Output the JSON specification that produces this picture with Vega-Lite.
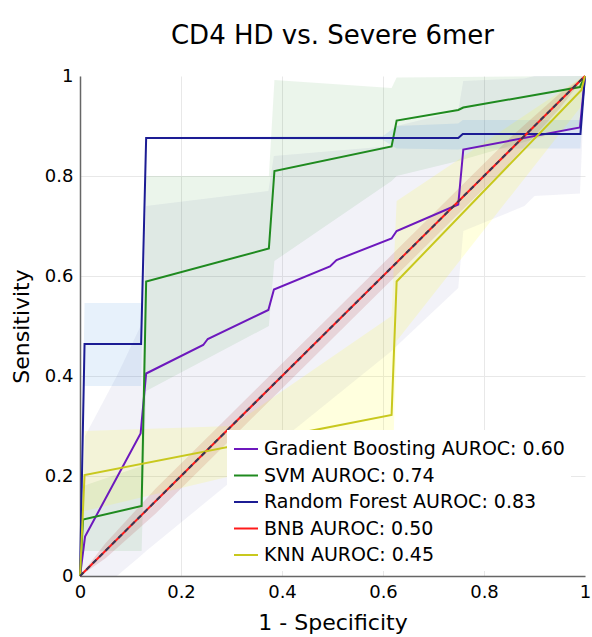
{
  "$schema": "https://vega.github.io/schema/vega-lite/v6.json",
  "width": 505,
  "height": 500,
  "autosize": {"type": "none"},
  "padding": {"left": 80, "top": 76, "right": 7, "bottom": 61},
  "title": {"text": "CD4 HD vs. Severe 6mer", "fontSize": 26, "fontWeight": "normal", "font": "DejaVu Sans", "offset": 18, "anchor": "middle", "color": "black"},
  "config": {
    "font": "DejaVu Sans",
    "view": {"stroke": null},
    "axis": {
      "ticks": false, "tickSize": 0, "labelFlush": false,
      "labelFontSize": 18, "labelColor": "black", "labelFont": "DejaVu Sans",
      "titleFontSize": 22, "titleFontWeight": "normal", "titleColor": "black", "titleFont": "DejaVu Sans",
      "domainColor": "#666", "domainWidth": 1.5,
      "gridColor": "#e8e8e8", "gridWidth": 1
    }
  },
  "datasets": {
    "curves": [
      {"model": "Gradient Boosting AUROC: 0.60", "fpr": 0, "tpr": 0},
      {"model": "Gradient Boosting AUROC: 0.60", "fpr": 0.01, "tpr": 0.079},
      {"model": "Gradient Boosting AUROC: 0.60", "fpr": 0.12, "tpr": 0.285},
      {"model": "Gradient Boosting AUROC: 0.60", "fpr": 0.131, "tpr": 0.405},
      {"model": "Gradient Boosting AUROC: 0.60", "fpr": 0.244, "tpr": 0.462},
      {"model": "Gradient Boosting AUROC: 0.60", "fpr": 0.253, "tpr": 0.474},
      {"model": "Gradient Boosting AUROC: 0.60", "fpr": 0.373, "tpr": 0.532},
      {"model": "Gradient Boosting AUROC: 0.60", "fpr": 0.384, "tpr": 0.573},
      {"model": "Gradient Boosting AUROC: 0.60", "fpr": 0.495, "tpr": 0.619},
      {"model": "Gradient Boosting AUROC: 0.60", "fpr": 0.508, "tpr": 0.632},
      {"model": "Gradient Boosting AUROC: 0.60", "fpr": 0.617, "tpr": 0.675},
      {"model": "Gradient Boosting AUROC: 0.60", "fpr": 0.627, "tpr": 0.69},
      {"model": "Gradient Boosting AUROC: 0.60", "fpr": 0.749, "tpr": 0.743},
      {"model": "Gradient Boosting AUROC: 0.60", "fpr": 0.759, "tpr": 0.853},
      {"model": "Gradient Boosting AUROC: 0.60", "fpr": 0.99, "tpr": 0.897},
      {"model": "Gradient Boosting AUROC: 0.60", "fpr": 1, "tpr": 1},
      {"model": "SVM AUROC: 0.74", "fpr": 0, "tpr": 0},
      {"model": "SVM AUROC: 0.74", "fpr": 0.006, "tpr": 0.113},
      {"model": "SVM AUROC: 0.74", "fpr": 0.122, "tpr": 0.14},
      {"model": "SVM AUROC: 0.74", "fpr": 0.131, "tpr": 0.589},
      {"model": "SVM AUROC: 0.74", "fpr": 0.374, "tpr": 0.655},
      {"model": "SVM AUROC: 0.74", "fpr": 0.385, "tpr": 0.81},
      {"model": "SVM AUROC: 0.74", "fpr": 0.617, "tpr": 0.859},
      {"model": "SVM AUROC: 0.74", "fpr": 0.627, "tpr": 0.911},
      {"model": "SVM AUROC: 0.74", "fpr": 0.749, "tpr": 0.932},
      {"model": "SVM AUROC: 0.74", "fpr": 0.759, "tpr": 0.937},
      {"model": "SVM AUROC: 0.74", "fpr": 0.99, "tpr": 0.978},
      {"model": "SVM AUROC: 0.74", "fpr": 1, "tpr": 1},
      {"model": "Random Forest AUROC: 0.83", "fpr": 0, "tpr": 0},
      {"model": "Random Forest AUROC: 0.83", "fpr": 0.009, "tpr": 0.464},
      {"model": "Random Forest AUROC: 0.83", "fpr": 0.121, "tpr": 0.464},
      {"model": "Random Forest AUROC: 0.83", "fpr": 0.131, "tpr": 0.876},
      {"model": "Random Forest AUROC: 0.83", "fpr": 0.749, "tpr": 0.876},
      {"model": "Random Forest AUROC: 0.83", "fpr": 0.758, "tpr": 0.884},
      {"model": "Random Forest AUROC: 0.83", "fpr": 0.991, "tpr": 0.884},
      {"model": "Random Forest AUROC: 0.83", "fpr": 1, "tpr": 1},
      {"model": "BNB AUROC: 0.50", "fpr": 0, "tpr": 0},
      {"model": "BNB AUROC: 0.50", "fpr": 1, "tpr": 1},
      {"model": "KNN AUROC: 0.45", "fpr": 0, "tpr": 0},
      {"model": "KNN AUROC: 0.45", "fpr": 0.009, "tpr": 0.202},
      {"model": "KNN AUROC: 0.45", "fpr": 0.617, "tpr": 0.322},
      {"model": "KNN AUROC: 0.45", "fpr": 0.627, "tpr": 0.589},
      {"model": "KNN AUROC: 0.45", "fpr": 0.993, "tpr": 0.972},
      {"model": "KNN AUROC: 0.45", "fpr": 1, "tpr": 1}
    ],
    "bands": [
      {"band": "GB", "fpr": 0, "lo": 0, "hi": 0},
      {"band": "GB", "fpr": 0.01, "lo": 0, "hi": 0.28},
      {"band": "GB", "fpr": 0.073, "lo": 0, "hi": 0.4},
      {"band": "GB", "fpr": 0.12, "lo": 0.04, "hi": 0.5},
      {"band": "GB", "fpr": 0.131, "lo": 0.05, "hi": 0.74},
      {"band": "GB", "fpr": 0.373, "lo": 0.25, "hi": 0.77},
      {"band": "GB", "fpr": 0.384, "lo": 0.26, "hi": 0.84},
      {"band": "GB", "fpr": 0.617, "lo": 0.45, "hi": 0.86},
      {"band": "GB", "fpr": 0.627, "lo": 0.46, "hi": 0.9},
      {"band": "GB", "fpr": 0.749, "lo": 0.576, "hi": 0.93},
      {"band": "GB", "fpr": 0.759, "lo": 0.69, "hi": 0.99},
      {"band": "GB", "fpr": 0.88, "lo": 0.74, "hi": 0.995},
      {"band": "GB", "fpr": 0.9, "lo": 0.76, "hi": 1},
      {"band": "GB", "fpr": 0.99, "lo": 0.765, "hi": 1},
      {"band": "GB", "fpr": 1, "lo": 1, "hi": 1},
      {"band": "SVM", "fpr": 0, "lo": 0, "hi": 0},
      {"band": "SVM", "fpr": 0.006, "lo": 0.05, "hi": 0.18},
      {"band": "SVM", "fpr": 0.122, "lo": 0.05, "hi": 0.22},
      {"band": "SVM", "fpr": 0.131, "lo": 0.37, "hi": 0.8},
      {"band": "SVM", "fpr": 0.374, "lo": 0.5, "hi": 0.8},
      {"band": "SVM", "fpr": 0.385, "lo": 0.63, "hi": 0.992},
      {"band": "SVM", "fpr": 0.617, "lo": 0.79, "hi": 0.976},
      {"band": "SVM", "fpr": 0.627, "lo": 0.8, "hi": 0.997},
      {"band": "SVM", "fpr": 0.749, "lo": 0.83, "hi": 0.998},
      {"band": "SVM", "fpr": 0.99, "lo": 0.9, "hi": 1},
      {"band": "SVM", "fpr": 1, "lo": 1, "hi": 1},
      {"band": "RF", "fpr": 0, "lo": 0, "hi": 0},
      {"band": "RF", "fpr": 0.009, "lo": 0.38, "hi": 0.546},
      {"band": "RF", "fpr": 0.121, "lo": 0.38, "hi": 0.546},
      {"band": "RF", "fpr": 0.131, "lo": 0.874, "hi": 0.878},
      {"band": "RF", "fpr": 0.6, "lo": 0.872, "hi": 0.88},
      {"band": "RF", "fpr": 0.627, "lo": 0.855, "hi": 0.9},
      {"band": "RF", "fpr": 0.749, "lo": 0.853, "hi": 0.905},
      {"band": "RF", "fpr": 0.758, "lo": 0.855, "hi": 0.912},
      {"band": "RF", "fpr": 0.991, "lo": 0.855, "hi": 0.912},
      {"band": "RF", "fpr": 1, "lo": 1, "hi": 1},
      {"band": "BNB", "fpr": 0, "lo": 0, "hi": 0},
      {"band": "BNB", "fpr": 0.05, "lo": 0.035, "hi": 0.065},
      {"band": "BNB", "fpr": 0.15, "lo": 0.125, "hi": 0.175},
      {"band": "BNB", "fpr": 0.85, "lo": 0.825, "hi": 0.875},
      {"band": "BNB", "fpr": 0.95, "lo": 0.935, "hi": 0.965},
      {"band": "BNB", "fpr": 1, "lo": 1, "hi": 1},
      {"band": "KNN", "fpr": 0, "lo": 0, "hi": 0},
      {"band": "KNN", "fpr": 0.009, "lo": 0.13, "hi": 0.29},
      {"band": "KNN", "fpr": 0.3, "lo": 0.2, "hi": 0.3},
      {"band": "KNN", "fpr": 0.617, "lo": 0.15, "hi": 0.52},
      {"band": "KNN", "fpr": 0.627, "lo": 0.47, "hi": 0.75},
      {"band": "KNN", "fpr": 0.993, "lo": 0.94, "hi": 0.997},
      {"band": "KNN", "fpr": 1, "lo": 1, "hi": 1}
    ],
    "diag": [
      {"fpr": 0, "tpr": 0},
      {"fpr": 1, "tpr": 1}
    ]
  },
  "layer": [
    {
      "data": {"name": "bands"},
      "mark": {"type": "area", "interpolate": "linear"},
      "encoding": {
        "x": {"field": "fpr", "type": "quantitative", "scale": {"domain": [0, 1]},
              "axis": {"title": "1 - Specificity", "values": [0, 0.2, 0.4, 0.6, 0.8, 1], "format": "~g", "labelPadding": 7, "titlePadding": 11,
                       "gridOpacity": {"condition": {"test": "datum.value >= 1", "value": 0}, "value": 1}}},
        "y": {"field": "lo", "type": "quantitative", "scale": {"domain": [0, 1]},
              "axis": {"title": "Sensitivity", "values": [0, 0.2, 0.4, 0.6, 0.8, 1], "format": "~g", "labelPadding": 7, "titlePadding": 11,
                       "gridOpacity": {"condition": {"test": "datum.value >= 1", "value": 0}, "value": 1}}},
        "y2": {"field": "hi"},
        "fill": {"field": "band", "type": "nominal", "legend": null,
                 "scale": {"domain": ["GB", "SVM", "RF", "BNB", "KNN"],
                           "range": ["rgba(80,80,160,0.075)", "rgba(0,128,0,0.08)", "rgba(40,130,220,0.11)", "rgba(165,42,42,0.15)", "rgba(255,255,0,0.13)"]}}
      }
    },
    {
      "data": {"name": "curves"},
      "mark": {"type": "line", "strokeWidth": 2},
      "encoding": {
        "x": {"field": "fpr", "type": "quantitative"},
        "y": {"field": "tpr", "type": "quantitative"},
        "color": {"field": "model", "type": "nominal",
                  "scale": {"domain": ["Gradient Boosting AUROC: 0.60", "SVM AUROC: 0.74", "Random Forest AUROC: 0.83", "BNB AUROC: 0.50", "KNN AUROC: 0.45"],
                            "range": ["#6d18bd", "#1f8a1f", "#1c1c94", "#ff1a1a", "#c8c81e"]},
                  "legend": {"orient": "none", "legendX": 147, "legendY": 354, "title": null, "fillColor": "white", "padding": 6,
                             "symbolType": "stroke", "symbolSize": 576, "symbolStrokeWidth": 2, "labelFontSize": 19, "labelOffset": 5,
                             "rowPadding": 3.5, "labelColor": "black", "labelLimit": 400, "labelFont": "DejaVu Sans"}}
      }
    },
    {
      "data": {"name": "diag"},
      "mark": {"type": "line", "strokeWidth": 2, "strokeDash": [5, 4], "color": "#333a55"},
      "encoding": {
        "x": {"field": "fpr", "type": "quantitative"},
        "y": {"field": "tpr", "type": "quantitative"}
      }
    }
  ]
}
